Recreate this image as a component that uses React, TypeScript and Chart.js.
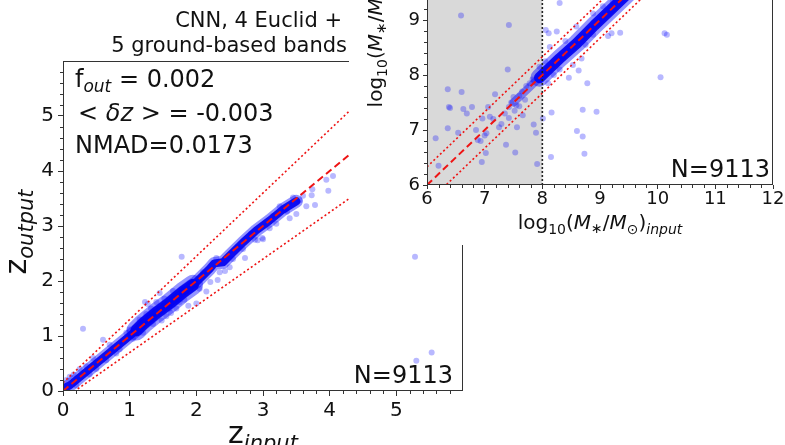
import React, { useEffect, useRef } from 'react';
import { Chart, registerables } from 'chart.js';

Chart.register(...registerables);

const FONT = "'DejaVu Sans', 'Liberation Sans', sans-serif";
Chart.defaults.font.family = FONT;

// ---------------- data: left panel (redshift) ----------------
const zTicks = [0, 1, 2, 3, 4, 5];
const zOneToOne: [number, number][] = [[0, 0], [6, 6]];
const zOutlierUpper: [number, number][] = [[0, 0.15], [6, 7.05]];
const zOutlierLower: [number, number][] = [[0, -0.15], [6, 4.95]];
const zBand: [number, number][] = [
  [0.0, 0.05], [0.1, 0.1], [0.3, 0.3], [0.5, 0.5], [0.7, 0.7], [0.9, 0.9], [1.1, 1.1],
  [1.2, 1.22], [1.4, 1.42], [1.6, 1.6], [1.8, 1.8], [2.0, 1.98], [2.2, 2.22], [2.27, 2.32],
  [2.4, 2.34], [2.5, 2.46], [2.7, 2.7], [2.9, 2.92], [3.1, 3.1], [3.3, 3.3], [3.5, 3.45],
];
const zBandWide: [number, number][] = [
  [1.1, 1.1], [1.2, 1.22], [1.4, 1.42], [1.6, 1.6], [1.8, 1.8], [1.95, 1.93],
];
const zScatter: [number, number][] = [
  [5.28, 2.44], [5.30, 0.55], [5.53, 0.70], [0.30, 1.13], [0.60, 0.93], [1.78, 2.44],
  [1.45, 1.78], [1.23, 1.62], [1.27, 1.58], [2.21, 1.98], [2.32, 2.02], [3.00, 2.76],
  [2.73, 2.42], [2.50, 2.25], [2.43, 2.18], [2.15, 1.81], [2.00, 1.59], [1.88, 1.55],
  [1.78, 1.84], [1.60, 1.50], [3.95, 3.84], [4.05, 3.91], [3.98, 3.64], [3.74, 3.67],
  [3.78, 3.38], [3.65, 3.36], [3.40, 3.14], [3.33, 3.29], [3.25, 3.36], [2.99, 2.78],
  [2.88, 2.75], [3.73, 3.56], [3.50, 3.22], [3.55, 3.47], [3.45, 3.52], [3.60, 3.55],
  [0.05, 0.20], [0.10, 0.26], [0.16, 0.30], [0.20, 0.10], [0.25, 0.40], [0.35, 0.45],
  [0.45, 0.60], [0.50, 0.40], [0.65, 0.56], [0.70, 0.84], [0.85, 0.76], [0.95, 1.06],
  [1.05, 0.95], [1.15, 1.30], [1.20, 1.06], [1.32, 1.50], [1.35, 1.22], [1.52, 1.68],
  [1.55, 1.36], [1.65, 1.82], [1.70, 1.50], [1.82, 1.66], [1.90, 1.96], [2.05, 1.86],
  [2.10, 2.16], [2.30, 2.42], [2.35, 2.16], [2.55, 2.40], [2.62, 2.62], [2.70, 2.58],
  [2.82, 2.86], [2.92, 2.74], [3.10, 2.96], [3.15, 3.18], [3.20, 3.04], [3.36, 3.26],
  [1.40, 1.62], [1.48, 1.28], [1.62, 1.42], [1.75, 1.62], [1.25, 1.40], [0.40, 0.30],
  [0.80, 0.68], [1.00, 1.12],
];

// ---------------- data: right panel (stellar mass) ----------------
const mTicks = [6, 7, 8, 9, 10, 11, 12];
const mShade: [number, number] = [6, 8];
const mCut: [number, number][] = [[8, 6], [8, 12]];
const mOneToOne: [number, number][] = [[6, 6], [12, 12]];
const mOutlierUpper: [number, number][] = [[6, 6.33], [12, 12.33]];
const mOutlierLower: [number, number][] = [[6, 5.67], [12, 11.67]];
const mBand: [number, number][] = [
  [7.5, 7.5], [7.8, 7.8], [8.0, 8.0], [8.3, 8.3], [8.6, 8.58], [8.9, 8.9], [9.2, 9.2],
  [9.5, 9.5], [9.8, 9.8], [10.2, 10.2],
];
const mBandDense: [number, number][] = [
  [7.95, 7.95], [8.3, 8.3], [8.6, 8.58], [8.9, 8.9], [9.2, 9.2], [9.5, 9.5], [9.8, 9.8], [10.2, 10.2],
];
const mScatter: [number, number][] = [
  [6.59, 9.08], [7.42, 8.91], [7.40, 8.10], [6.36, 7.74], [6.60, 7.69], [6.38, 7.42],
  [6.40, 7.40], [6.63, 7.38], [6.78, 7.42], [6.69, 7.30], [7.06, 7.42], [7.18, 7.65],
  [6.96, 7.21], [7.09, 7.24], [6.36, 7.03], [6.15, 6.85], [6.54, 6.95], [6.88, 6.82],
  [6.93, 6.80], [7.03, 6.94], [7.29, 7.11], [7.25, 7.05], [7.37, 6.73], [7.53, 6.59],
  [7.42, 7.22], [7.56, 7.05], [7.42, 7.42], [7.46, 7.50], [7.55, 7.45], [7.50, 7.60],
  [7.60, 7.62], [7.65, 7.70], [7.72, 7.80], [7.78, 7.85], [7.83, 7.92], [7.85, 7.10],
  [7.89, 6.95], [7.91, 6.38], [6.20, 6.35], [6.95, 6.42], [7.02, 6.58], [7.60, 7.43],
  [7.66, 7.27], [7.52, 7.35], [7.70, 7.55], [7.35, 7.30], [7.15, 7.20], [7.00, 6.90],
  [6.85, 7.00], [8.06, 8.82], [8.11, 8.76], [8.16, 7.32], [8.15, 6.51], [8.01, 7.21],
  [8.30, 9.31], [8.70, 7.37], [8.94, 7.33], [8.70, 6.88], [8.60, 6.98], [8.73, 6.57],
  [8.78, 7.85], [8.63, 8.08], [8.46, 7.95], [9.20, 8.76], [9.35, 8.77], [10.12, 8.76],
  [10.16, 8.73], [10.05, 7.96], [8.30, 8.10], [8.53, 8.18], [8.36, 8.30], [8.88, 8.73],
  [9.14, 8.71], [8.68, 8.30], [8.25, 8.79], [8.13, 8.51], [8.59, 8.88], [8.88, 9.12],
  [9.22, 9.33], [8.20, 8.00], [8.40, 8.62], [8.75, 8.55], [9.05, 9.25], [8.05, 8.25],
  [8.10, 7.85], [7.95, 8.15],
];

// ---------------- helpers ----------------
type Part = { t: string; s: number; i?: boolean; dy?: number };
type Rich = { parts: Part[]; x: number; y: number; align: 'left' | 'center' | 'right'; rot?: number };

const setFont = (ctx: CanvasRenderingContext2D, p: Part) => {
  ctx.font = `${p.i ? 'italic ' : ''}${p.s}px ${FONT}`;
};

function drawRich(ctx: CanvasRenderingContext2D, r: Rich) {
  ctx.save();
  ctx.translate(r.x, r.y);
  if (r.rot) ctx.rotate(r.rot);
  let w = 0;
  r.parts.forEach((p) => { setFont(ctx, p); w += ctx.measureText(p.t).width; });
  let cx = r.align === 'left' ? 0 : r.align === 'center' ? -w / 2 : -w;
  ctx.fillStyle = '#111';
  ctx.textAlign = 'left';
  ctx.textBaseline = 'alphabetic';
  r.parts.forEach((p) => {
    setFont(ctx, p);
    ctx.fillText(p.t, cx, p.dy || 0);
    cx += ctx.measureText(p.t).width;
  });
  ctx.restore();
}

const makeTextPlugin = (items: Rich[]) => ({
  id: 'richText',
  afterDraw(chart: any) {
    items.forEach((r) => drawRich(chart.ctx, r));
  },
});

const makeFramePlugin = (shade: [number, number] | null) => ({
  id: 'frame',
  beforeDatasetsDraw(chart: any) {
    if (!shade) return;
    const ctx = chart.ctx;
    const xs = chart.scales.x;
    const { top, bottom } = chart.chartArea;
    const a = xs.getPixelForValue(shade[0]);
    const b = xs.getPixelForValue(shade[1]);
    ctx.save();
    ctx.fillStyle = '#d9d9d9';
    ctx.fillRect(a, top, b - a, bottom - top);
    ctx.restore();
  },
  afterDraw(chart: any) {
    const ctx = chart.ctx;
    const { left, right, top, bottom } = chart.chartArea;
    const xs = chart.scales.x;
    const ys = chart.scales.y;
    ctx.save();
    ctx.strokeStyle = '#333';
    ctx.lineWidth = 1;
    ctx.strokeRect(Math.round(left) + 0.5, Math.round(top) + 0.5, Math.round(right - left) - 1, Math.round(bottom - top) - 1);
    const step = 0.2;
    ctx.beginPath();
    for (let i = Math.ceil(xs.min / step - 1e-6); i <= Math.floor(xs.max / step + 1e-6); i++) {
      if (i % 5 === 0) continue;
      const px = Math.round(xs.getPixelForValue(i * step)) + 0.5;
      ctx.moveTo(px, bottom);
      ctx.lineTo(px, bottom + 3);
    }
    for (let i = Math.ceil(ys.min / step - 1e-6); i <= Math.floor(ys.max / step + 1e-6); i++) {
      if (i % 5 === 0) continue;
      const py = Math.round(ys.getPixelForValue(i * step)) + 0.5;
      ctx.moveTo(left, py);
      ctx.lineTo(left - 3, py);
    }
    ctx.stroke();
    ctx.restore();
  },
});

const pts = (a: [number, number][]) => a.map(([x, y]) => ({ x, y }));

const lineDs = (a: [number, number][], color: string, width: number, dash: number[], order: number) => ({
  data: pts(a),
  showLine: true,
  borderColor: color,
  backgroundColor: color,
  borderWidth: width,
  borderDash: dash,
  borderCapStyle: dash.length ? 'butt' : 'round',
  borderJoinStyle: 'round',
  pointRadius: 0,
  pointHoverRadius: 0,
  fill: false,
  tension: 0,
  order,
});

const scatterDs = (a: [number, number][], order: number) => ({
  data: pts(a),
  showLine: false,
  pointRadius: 3,
  pointBorderWidth: 0,
  pointBackgroundColor: 'rgba(0,0,255,0.28)',
  backgroundColor: 'rgba(0,0,255,0.28)',
  borderColor: 'rgba(0,0,0,0)',
  order,
});

const RED = 'rgb(238,20,20)';
const CORE = 'rgba(5,5,240,0.95)';
const HALO = 'rgba(0,0,255,0.42)';

const axis = (ticks: number[], min: number, max: number, fit: (s: any) => void, size: number, pad: number, tl: number) => ({
  type: 'linear',
  min,
  max,
  afterBuildTicks: (s: any) => { s.ticks = ticks.map((v) => ({ value: v })); },
  afterFit: fit,
  border: { display: false },
  grid: { drawOnChartArea: false, drawTicks: true, tickLength: tl, tickColor: '#333', tickWidth: 1 },
  ticks: { autoSkip: false, maxRotation: 0, minRotation: 0, padding: pad, color: '#111', font: { size, family: FONT } },
});

function leftConfig(): any {
  return {
    type: 'scatter',
    data: {
      datasets: [
        lineDs(zOneToOne, RED, 2, [7, 4], 0),
        lineDs(zOutlierUpper, RED, 1.6, [2, 2.5], 0),
        lineDs(zOutlierLower, RED, 1.6, [2, 2.5], 0),
        scatterDs(zScatter, 1),
        lineDs(zBand, CORE, 8, [], 2),
        lineDs(zBandWide, CORE, 12, [], 2),
        lineDs(zBand, HALO, 13, [], 3),
        lineDs(zBandWide, HALO, 20, [], 4),
      ],
    },
    options: {
      animation: false,
      responsive: false,
      devicePixelRatio: 1,
      events: [],
      layout: { padding: { top: 61, right: 322, left: 0, bottom: 0 } },
      plugins: { legend: { display: false }, tooltip: { enabled: false } },
      scales: {
        x: axis(zTicks, 0, 6, (s: any) => { s.height = 54; }, 20, 3, 5),
        y: axis(zTicks, 0, 6, (s: any) => { s.width = 63; }, 20, 4, 5),
      },
    },
    plugins: [
      makeFramePlugin(null),
      makeTextPlugin([
        { parts: [{ t: 'CNN, 4 Euclid +', s: 21 }], x: 342, y: 27, align: 'right' },
        { parts: [{ t: '5 ground-based bands', s: 21 }], x: 347, y: 52, align: 'right' },
        { parts: [{ t: 'f', s: 24 }, { t: 'out', s: 17, i: true, dy: 5 }, { t: ' = 0.002', s: 24 }], x: 75, y: 87, align: 'left' },
        {
          parts: [{ t: '<', s: 24 }, { t: ' ', s: 24 }, { t: 'δz', s: 24, i: true }, { t: ' ', s: 24 }, { t: '>', s: 24 }, { t: ' = -0.003', s: 24 }],
          x: 78, y: 121, align: 'left',
        },
        { parts: [{ t: 'NMAD=0.0173', s: 24 }], x: 75, y: 153, align: 'left' },
        { parts: [{ t: 'N=9113', s: 24 }], x: 453, y: 383, align: 'right' },
        { parts: [{ t: 'z', s: 30 }, { t: 'output', s: 21, i: true, dy: 7 }], x: 26, y: 232, align: 'center', rot: -Math.PI / 2 },
        { parts: [{ t: 'z', s: 30 }, { t: 'input', s: 21, i: true, dy: 7 }], x: 263, y: 443, align: 'center' },
      ]),
    ],
  };
}

const massLabel = (sub: string): Part[] => [
  { t: 'log', s: 20 }, { t: '10', s: 14, dy: 5 }, { t: '(', s: 20 }, { t: 'M', s: 20, i: true },
  { t: '∗', s: 14, dy: 4 }, { t: '/', s: 20 }, { t: 'M', s: 20, i: true }, { t: '⊙', s: 14, dy: 5 },
  { t: ')', s: 20 }, { t: sub, s: 14, i: true, dy: 5 },
];

function rightConfig(): any {
  return {
    type: 'scatter',
    data: {
      datasets: [
        lineDs(mOneToOne, RED, 2, [7, 4], 0),
        lineDs(mOutlierUpper, RED, 1.6, [2, 2.5], 0),
        lineDs(mOutlierLower, RED, 1.6, [2, 2.5], 0),
        lineDs(mCut, '#222', 1.6, [2, 2], 0),
        scatterDs(mScatter, 1),
        lineDs(mBandDense, CORE, 11, [], 2),
        lineDs(mBand, HALO, 8, [], 3),
        lineDs(mBandDense, HALO, 18, [], 4),
      ],
    },
    options: {
      animation: false,
      responsive: false,
      devicePixelRatio: 1,
      events: [],
      layout: { padding: { top: 15, right: 12, left: 0, bottom: 0 } },
      plugins: { legend: { display: false }, tooltip: { enabled: false } },
      scales: {
        x: axis(mTicks, 6, 12, (s: any) => { s.height = 60; }, 18, 0, 4),
        y: axis(mTicks, 6, 12, (s: any) => { s.width = 78; }, 18, 3, 4),
      },
    },
    plugins: [
      makeFramePlugin(mShade),
      makeTextPlugin([
        { parts: massLabel('input'), x: 251, y: 389, align: 'center' },
        { parts: massLabel('output'), x: 33, y: 180, align: 'center', rot: -Math.PI / 2 },
        { parts: [{ t: 'N=9113', s: 24 }], x: 421, y: 337, align: 'right' },
      ]),
    ],
  };
}

export default function App() {
  const leftRef = useRef<HTMLCanvasElement>(null);
  const rightRef = useRef<HTMLCanvasElement>(null);
  useEffect(() => {
    const a = new Chart(leftRef.current as HTMLCanvasElement, leftConfig());
    const b = new Chart(rightRef.current as HTMLCanvasElement, rightConfig());
    return () => { a.destroy(); b.destroy(); };
  }, []);
  return (
    <div style={{ position: 'fixed', left: 0, top: 0, width: 785, height: 445, overflow: 'hidden', background: '#fff' }}>
      <canvas ref={leftRef} width={785} height={445} style={{ position: 'absolute', left: 0, top: 0, width: 785, height: 445 }} />
      <canvas ref={rightRef} width={436} height={405} style={{ position: 'absolute', left: 349, top: -160, width: 436, height: 405, background: '#fff' }} />
    </div>
  );
}
